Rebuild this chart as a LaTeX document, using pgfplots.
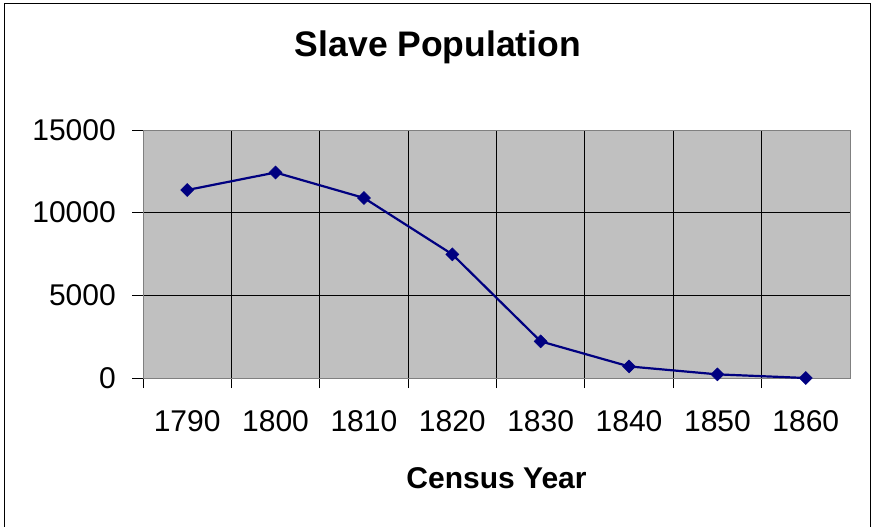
\documentclass[border=0pt]{standalone}
\usepackage{pgfplots}
\pgfplotsset{compat=1.18}
\usepackage{fontspec}
\setmainfont{Liberation Sans}
\definecolor{plotgray}{RGB}{192,192,192}
\definecolor{navyline}{RGB}{0,0,128}
\definecolor{bordergray}{RGB}{128,128,128}
\begin{document}
\begin{tikzpicture}[x=1pt,y=1pt]
\useasboundingbox (0,0) rectangle (873,-527);
\draw[black,line width=1pt] (4,-527) -- (4,-4) -- (870,-4) -- (870,-527);
\node[anchor=base,font=\bfseries\fontsize{35.5}{40}\selectfont] at (438,-57) {Slave Population};
\begin{axis}[
  at={(143pt,-378pt)}, anchor=south west,
  scale only axis, width=707pt, height=248pt,
  xmin=-0.5, xmax=7.5, ymin=0, ymax=15000,
  scaled y ticks=false,
  axis background/.style={fill=plotgray},
  axis line style={bordergray, line width=0.8pt},
  xtick={0,...,7},
  xticklabels={1790,1800,1810,1820,1830,1840,1850,1860},
  minor xtick={-0.5,0.5,...,6.5},
  extra x ticks={7.5}, extra x tick labels={},
  extra x tick style={grid=none, major tick length=10pt, major tick style={draw=black, line width=0.8pt}},
  xminorgrids=true, xmajorgrids=false,
  ytick={0,5000,10000}, yticklabels={0,5000,10000},
  extra y ticks={15000}, extra y tick labels={15000},
  extra y tick style={grid=none},
  ymajorgrids=true,
  grid style={black, line width=0.8pt},
  minor grid style={black, line width=0.8pt},
  tick align=outside, tick pos=left,
  major tick length=11pt, minor tick length=10pt,
  every major x tick/.style={draw=none},
  every tick/.style={black, line width=0.8pt},
  ticklabel style={font=\fontsize{30}{33}\selectfont, inner sep=0pt},
  xticklabel style={anchor=base, yshift=-42pt},
  yticklabel style={anchor=east, xshift=-16pt},
  xlabel={Census Year},
  xlabel style={font=\bfseries\fontsize{30}{33}\selectfont, anchor=base, at={(axis description cs:0.5,0)}, yshift=-110pt},
  clip=false,
]
\addplot[navyline, line width=2.2pt, mark=square*, mark size=4.6pt, mark options={fill=navyline, draw=navyline, rotate=45, line width=0.5pt}]
  coordinates {(0,11370) (1,12430) (2,10890) (3,7480) (4,2215) (5,700) (6,220) (7,0)};
\end{axis}
\end{tikzpicture}
\end{document}
